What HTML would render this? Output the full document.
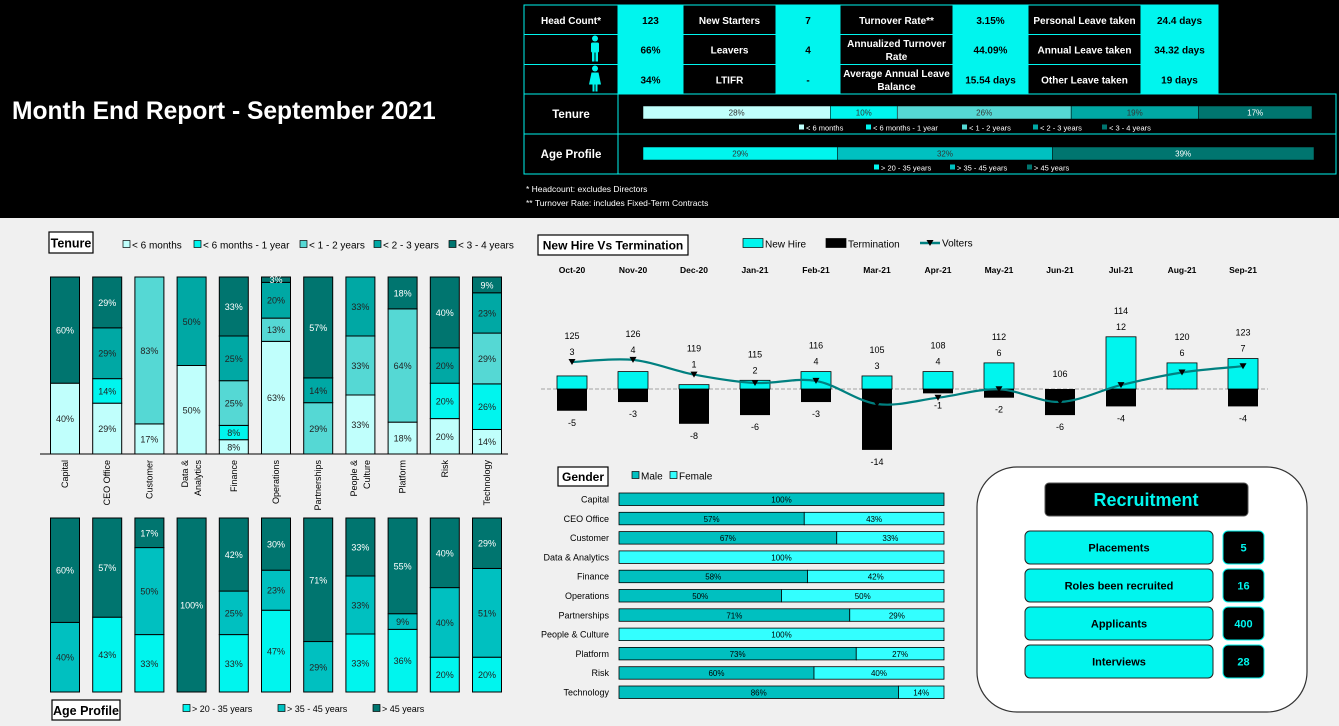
<!DOCTYPE html>
<html><head><meta charset="utf-8"><style>
html,body{margin:0;padding:0;background:#f0f0f0;}
svg{display:block;font-family:"Liberation Sans",Arial,sans-serif;}
</style></head><body>
<svg id="s" width="1339" height="726" viewBox="0 0 1339 726" xmlns="http://www.w3.org/2000/svg">
<rect x="0" y="0" width="1339" height="726" fill="#f0f0f0"/>
<rect x="0" y="0" width="1339" height="218" fill="#000"/>
<text x="12" y="119" fill="#fff" font-size="24.6" font-weight="bold">Month End Report - September 2021</text>
<g id="topTable"></g>
<text x="526" y="192" fill="#fff" font-size="8.5">* Headcount: excludes Directors</text>
<text x="526" y="206" fill="#fff" font-size="8.5">** Turnover Rate: includes Fixed-Term Contracts</text>

<rect x="49" y="232" width="44" height="21" fill="#fff" stroke="#000" stroke-width="1.2"/>
<text x="71" y="247.5" font-size="12.5" font-weight="bold" text-anchor="middle">Tenure</text>
<g id="tenureChart"></g>
<g id="ageChart"></g>
<rect x="52" y="700" width="68" height="20" fill="#fff" stroke="#000" stroke-width="1.2"/>
<text x="86" y="715" font-size="12.5" font-weight="bold" text-anchor="middle">Age Profile</text>

<rect x="538" y="235" width="150" height="20" fill="#fff" stroke="#000" stroke-width="1.2"/>
<text x="613" y="249.5" font-size="12" font-weight="bold" text-anchor="middle">New Hire Vs Termination</text>
<g id="hireChart"></g>

<rect x="558" y="467" width="50" height="19" fill="#fff" stroke="#000" stroke-width="1.2"/>
<text x="583" y="481" font-size="12" font-weight="bold" text-anchor="middle">Gender</text>
<g id="genderChart"></g>

<rect x="977" y="467" width="330" height="245" rx="40" fill="#fff" stroke="#333" stroke-width="1.2"/>
<rect x="1045" y="483" width="203" height="33" rx="4" fill="#000" stroke="#555"/>
<text x="1146" y="506" font-size="18" font-weight="bold" fill="#00f5ee" text-anchor="middle">Recruitment</text>
<g id="recruit"></g>
</svg>
<script>
const NS='http://www.w3.org/2000/svg';
function mk(parent,tag,attrs,txt){const e=document.createElementNS(NS,tag);for(const k in attrs)e.setAttribute(k,attrs[k]);if(txt!==undefined)e.textContent=txt;parent.appendChild(e);return e;}
const CY='#00f5ee';

// ---------- top KPI table ----------
const colX=[524,618,683,776,840,953,1028,1141,1218];
const rowY=[5,34.5,64.5,94];
const kpiRows=[
 ['Head Count*','123','New Starters','7','Turnover Rate**','3.15%','Personal Leave taken','24.4 days'],
 ['','66%','Leavers','4','Annualized Turnover|Rate','44.09%','Annual Leave taken','34.32 days'],
 ['','34%','LTIFR','-','Average Annual Leave|Balance','15.54 days','Other Leave taken','19 days']];
const tt=document.getElementById('topTable');
for(let r=0;r<3;r++){for(let c=0;c<8;c++){
 const isVal=c%2===1;
 const cell=mk(tt,'rect',{x:colX[c],y:rowY[r],width:colX[c+1]-colX[c],height:rowY[r+1]-rowY[r],fill:isVal?CY:'#000',stroke:CY,'stroke-width':1});
 
 
 const lines=kpiRows[r][c].split('|');const cx=(colX[c]+colX[c+1])/2,cy=(rowY[r]+rowY[r+1])/2;
 lines.forEach((ln,li)=>{if(!ln)return;
  const t=mk(tt,'text',{x:cx,y:cy+4+(li-(lines.length-1)/2)*13,'font-size':10,'font-weight':'bold','text-anchor':'middle',fill:isVal?'#000':'#fff'},ln);
  
  });
}}
// person icons
[[49.5,'male'],[79.5,'female']].forEach(([cy,g])=>{
 const ic=mk(tt,'g',{fill:CY});
 
 
 mk(ic,'circle',{cx:595,cy:cy-11,r:3});
 if(g==='male'){mk(ic,'rect',{x:591,y:cy-7,width:8,height:10,rx:1.5});mk(ic,'rect',{x:592,y:cy+2,width:2.5,height:10});mk(ic,'rect',{x:595.5,y:cy+2,width:2.5,height:10});}
 else{mk(ic,'path',{d:`M591.5 ${cy-7} h7 l2.5 12 h-12 z`});mk(ic,'rect',{x:592.5,y:cy+4,width:2,height:8});mk(ic,'rect',{x:595.5,y:cy+4,width:2,height:8});}
});
// tenure/age summary sections
[['Tenure',94,134],['Age Profile',134,174]].forEach(([lab,y0,y1])=>{
 const a=mk(tt,'rect',{x:524,y:y0,width:812,height:y1-y0,fill:'#000',stroke:CY,'stroke-width':1});
 
 
 const b=mk(tt,'line',{x1:618,y1:y0,x2:618,y2:y1,stroke:CY});
 
 
 const t=mk(tt,'text',{x:571,y:(y0+y1)/2+4,fill:'#fff','font-size':11.5,'font-weight':'bold','text-anchor':'middle'},lab);
 
 
});
const tenureCats=['< 6 months','< 6 months - 1 year','< 1 - 2 years','< 2 - 3 years','< 3 - 4 years'];
const tenureColors=['#c0fffc','#00f5ee','#55d8d4','#00a8a4','#00756f'];
const tenureTotals=[28,10,26,19,17];
const ageCats=['> 20 - 35 years','> 35 - 45 years','> 45 years'];
const ageColors=['#00f5ee','#00c0c0','#00756f'];
const ageTotals=[29,32,39];
function hbar(vals,colors,x0,x1,y,h,dark){
 const sum=vals.reduce((a,b)=>a+b,0);let x=x0;
 vals.forEach((v,i)=>{const w=(x1-x0)*v/sum;
  const r=mk(tt,'rect',{x:x,y:y,width:w,height:h,fill:colors[i],stroke:'#000','stroke-width':0.5});
  
  
  const t=mk(tt,'text',{x:x+w/2,y:y+h/2+3,'font-size':8,'text-anchor':'middle',fill:i===dark?'#fff':'#333'},v+'%');
  
  
  x+=w;});
}
hbar(tenureTotals,tenureColors,643,1312,106,13,4);
hbar(ageTotals,ageColors,643,1314,147,13,2);
function legend(par,cats,colors,xs,y,fs,tc,sw,sh){
 sh=sh||sw;
 cats.forEach((c,i)=>{
  const r=mk(par,'rect',{x:xs[i],y:y-sh/2-1,width:sw,height:sh,fill:colors[i],stroke:tc==='#fff'?'none':'#000','stroke-width':0.7});
  
  
  const t=mk(par,'text',{x:xs[i]+sw+2,y:y+fs*0.35,'font-size':fs,fill:tc},c);
  
  });
}
legend(tt,tenureCats,tenureColors,[799,866,962,1033,1102],128,7.5,'#fff',5);
legend(tt,ageCats,ageColors,[874,950,1027],168,7.5,'#fff',5);

// ---------- departmental stacked columns ----------
const depts=['Capital','CEO Office','Customer','Data &|Analytics','Finance','Operations','Partnerships','People &|Culture','Platform','Risk','Technology'];
const tenLt6m=[40,29,17,50,8,63,0,33,18,20,14];
const ten6m1y=[0,14,0,0,8,0,0,0,0,20,26];
const ten1to2=[0,0,83,0,25,13,29,33,64,0,29];
const ten2to3=[0,29,0,50,25,20,14,33,0,20,23];
const ten3to4=[60,29,0,0,33,3,57,0,18,40,9];
const age20to35=[0,43,33,0,33,47,0,33,36,20,20];
const age35to45=[40,0,50,0,25,23,29,33,9,40,51];
const ageOver45=[60,57,17,100,42,30,71,33,55,40,29];
function xDept(i){return 65+i*42.2;}
function stacked(gid,series,colors,top,bottom,darkIdx){
 const g=document.getElementById(gid);const H=bottom-top;
 depts.forEach((d,i)=>{
  const vals=series.map(s=>s[i]);const sum=vals.reduce((a,b)=>a+b,0);let y=bottom;
  vals.forEach((v,k)=>{if(!v)return;const h=H*v/sum;y-=h;
   const r=mk(g,'rect',{x:xDept(i)-14.5,y:y,width:29,height:h,fill:colors[k],stroke:'#000','stroke-width':1});
   
   
   const t=mk(g,'text',{x:xDept(i),y:y+h/2+3.5,'font-size':9,'text-anchor':'middle',fill:darkIdx.includes(k)?'#fff':'#222'},v+'%');
   
   });
 });
}
stacked('tenureChart',[tenLt6m,ten6m1y,ten1to2,ten2to3,ten3to4],tenureColors,277,454,[4]);
stacked('ageChart',[age20to35,age35to45,ageOver45],ageColors,518,692,[2]);
(function(){const g=document.getElementById('tenureChart');
 const ax=mk(g,'line',{x1:40,y1:454,x2:508,y2:454,stroke:'#000','stroke-width':1});
 
 
 depts.forEach((d,i)=>{const parts=d.split('|');
  parts.forEach((p,k)=>{const dx=parts.length>1?(k===0?-6.5:6.5):0;
   const t=mk(g,'text',{transform:`translate(${xDept(i)+dx+3},460) rotate(-90)`,'font-size':9,'text-anchor':'end'},p);
   
   });});
 legend(g,tenureCats,tenureColors,[123,194,300,374,449],245,10,'#000',7);
 const ag=document.getElementById('ageChart');
 legend(ag,ageCats,ageColors,[183,278,373],709,9,'#000',7);
})();

// ---------- new hire vs termination ----------
const months=['Oct-20','Nov-20','Dec-20','Jan-21','Feb-21','Mar-21','Apr-21','May-21','Jun-21','Jul-21','Aug-21','Sep-21'];
const newHire=[3,4,1,2,4,3,4,6,0,12,6,7];
const termination=[-5,-3,-8,-6,-3,-14,-1,-2,-6,-4,0,-4];
const headcount=[125,126,119,115,116,105,108,112,106,114,120,123];
function xM(i){return 572+i*61;}
function yB(v){return 389-v*4.35;}
function yH(v){return 362-(v-125)*2.1;}
(function(){const g=document.getElementById('hireChart');
 legend(g,['New Hire'],['#00f5ee'],[743],244,10,'#000',20,9);
 legend(g,['Termination'],['#000'],[826],244,10,'#000',20,9);
 const ll=mk(g,'line',{x1:920,y1:243,x2:940,y2:243,stroke:'#008080','stroke-width':2.5});
 
 
 const lm=mk(g,'path',{d:'M926.5,240 L933.5,240 L930,246 Z',fill:'#000'});
 
 
 const lt=mk(g,'text',{x:942,y:246.5,'font-size':10},'Volters');
 
 
 const zl=mk(g,'line',{x1:541,y1:389,x2:1268,y2:389,stroke:'#888','stroke-dasharray':'4,2','stroke-width':0.8});
 
 
 months.forEach((m,i)=>{
  const t=mk(g,'text',{x:xM(i),y:273,'font-size':8.5,'font-weight':'bold','text-anchor':'middle'},m);
  
  
  if(newHire[i]){const b=mk(g,'rect',{x:xM(i)-15,y:yB(newHire[i]),width:30,height:yB(0)-yB(newHire[i]),fill:'#00f5ee',stroke:'#000','stroke-width':0.8});
   
   }
  if(termination[i]){const b=mk(g,'rect',{x:xM(i)-15,y:yB(0),width:30,height:yB(termination[i])-yB(0),fill:'#000'});
   
   
   const tl=mk(g,'text',{x:xM(i),y:yB(termination[i])+15,'font-size':9,'text-anchor':'middle'},termination[i]);
   
   }
  const top=Math.min(yB(newHire[i]),yH(headcount[i]));
  if(newHire[i]){const nl=mk(g,'text',{x:xM(i),y:top-7,'font-size':9,'text-anchor':'middle'},newHire[i]);
   
   }
  const hl=mk(g,'text',{x:xM(i),y:top-(newHire[i]?23:12),'font-size':9,'text-anchor':'middle'},headcount[i]);
  
  
 });
 const pts=headcount.map((v,i)=>[xM(i),yH(v)]);
 let d=`M${pts[0][0]},${pts[0][1]}`;
 for(let i=0;i<pts.length-1;i++){const p0=pts[Math.max(0,i-1)],p1=pts[i],p2=pts[i+1],p3=pts[Math.min(pts.length-1,i+2)];
  d+=` C${p1[0]+(p2[0]-p0[0])/6},${p1[1]+(p2[1]-p0[1])/6} ${p2[0]-(p3[0]-p1[0])/6},${p2[1]-(p3[1]-p1[1])/6} ${p2[0]},${p2[1]}`;}
 const ln=mk(g,'path',{d:d,fill:'none',stroke:'#008080','stroke-width':2.2});
 
 
 pts.forEach(p=>{const mkr=mk(g,'path',{d:`M${p[0]-3.5},${p[1]-3} L${p[0]+3.5},${p[1]-3} L${p[0]},${p[1]+3} Z`,fill:'#000'});
  
  });
})();

// ---------- gender ----------
const genderDepts=['Capital','CEO Office','Customer','Data & Analytics','Finance','Operations','Partnerships','People & Culture','Platform','Risk','Technology'];
const male=[100,57,67,0,58,50,71,0,73,60,86];
const female=[0,43,33,100,42,50,29,100,27,40,14];
function xG(v){return 619+v*3.25;}
function yG(i){return 493+i*19.3;}
(function(){const g=document.getElementById('genderChart');
 legend(g,['Male','Female'],['#00c0c0','#33ffff'],[632,670],476,10,'#000',7);
 genderDepts.forEach((d,i)=>{
  const t=mk(g,'text',{x:609,y:yG(i)+9.5,'font-size':9,'text-anchor':'end'},d);
  
  
  [[0,male[i],'#00c0c0','male'],[male[i],female[i],'#33ffff','female']].forEach(([s,v,c,n])=>{if(!v)return;
   const r=mk(g,'rect',{x:xG(s),y:yG(i),width:xG(s+v)-xG(s),height:12.5,fill:c,stroke:'#000','stroke-width':0.8});
   
   
   const l=mk(g,'text',{x:(xG(s)+xG(s+v))/2,y:yG(i)+9.5,'font-size':8,'text-anchor':'middle'},v+'%');
   
   });
 });
})();

// ---------- recruitment ----------
const recLabels=['Placements','Roles been recruited','Applicants','Interviews'];
const recValues=[5,16,400,28];
(function(){const g=document.getElementById('recruit');
 recLabels.forEach((l,i)=>{const y=531+i*38;
  const r=mk(g,'rect',{x:1025,y:y,width:188,height:33,rx:5,fill:'#00f5ee',stroke:'#222'});
  
  
  const t=mk(g,'text',{x:1119,y:y+20.5,'font-size':11,'font-weight':'bold','text-anchor':'middle'},l);
  
  
  const v=mk(g,'rect',{x:1223,y:y,width:41,height:33,rx:5,fill:'#000',stroke:'#00f5ee'});
  
  
  const vt=mk(g,'text',{x:1243.5,y:y+20.5,'font-size':11,'font-weight':'bold','text-anchor':'middle',fill:'#00f5ee'},recValues[i]);
  
  });
})();
</script>
</body></html>
